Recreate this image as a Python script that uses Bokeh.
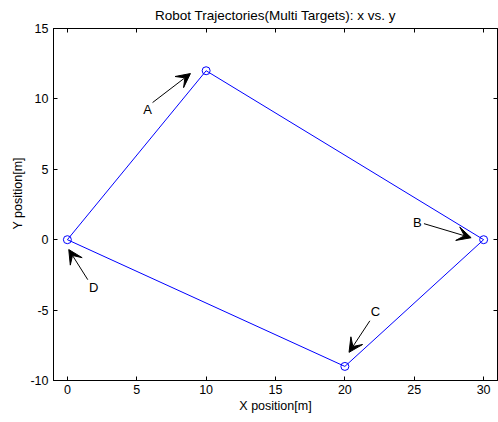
from bokeh.plotting import figure
from bokeh.models import Arrow, VeeHead, LinearAxis, Range1d, Label, Title
from bokeh.embed import file_html
from bokeh.resources import INLINE

# Trajectory waypoints (x, y in metres)
path_x = [0, 10, 30, 20, 0]
path_y = [0, 12, 0, -9, 0]

# Target markers
target_x = [0, 10, 30, 20]
target_y = [0, 12, 0, -9]

# Annotation labels and arrows
label_text = ["A", "B", "C", "D"]
label_x = [5.78, 25.23, 22.2, 1.9]
label_y = [9.24, 1.21, -5.12, -3.41]
arrow_x0 = [6.14, 25.7, 21.8, 1.47]
arrow_y0 = [9.74, 1.14, -5.76, -2.84]
arrow_x1 = [8.87, 29.1, 20.3, 0.1]
arrow_y1 = [11.8, 0.14, -8.0, -0.7]

x_ticks = [0, 5, 10, 15, 20, 25, 30]
y_ticks = [-10, -5, 0, 5, 10, 15]

FONT = "Liberation Sans"

p = figure(width=498, height=422, output_backend="svg", toolbar_location=None,
           x_range=Range1d(-1, 31), y_range=Range1d(-10, 15),
           min_border_left=53, min_border_right=1, min_border_top=28, min_border_bottom=42,
           title="Robot Trajectories(Multi Targets): x vs. y")
p.title.text_font = FONT
p.title.text_font_size = "13.5px"
p.title.text_font_style = "normal"
p.title.align = "center"
p.title.vertical_align = "top"
p.title.text_line_height = 1.0
p.title.text_color = "black"
p.title.standoff = 8
p.background_fill_color = "white"
p.border_fill_color = "white"
p.outline_line_color = "black"
p.outline_line_width = 1
p.xgrid.visible = False
p.ygrid.visible = False

for ax in (p.xaxis[0], p.yaxis[0]):
    ax.major_tick_in = 4
    ax.major_tick_out = 0
    ax.minor_tick_in = 0
    ax.minor_tick_out = 0
    ax.axis_line_color = "black"
    ax.major_tick_line_color = "black"
    ax.major_label_text_font = FONT
    ax.major_label_text_font_size = "12.5px"
    ax.major_label_text_color = "black"
    ax.axis_label_text_font = FONT
    ax.axis_label_text_font_size = "12.5px"
    ax.axis_label_text_font_style = "normal"
    ax.axis_label_text_color = "black"

p.xaxis.ticker = x_ticks
p.yaxis.ticker = y_ticks
p.xaxis.major_label_overrides = {t: str(t) for t in x_ticks}
p.yaxis.major_label_overrides = {t: str(t) for t in y_ticks}
p.xaxis.axis_label = "X position[m]"
p.xaxis.major_label_standoff = 4
p.yaxis.major_label_standoff = 5
p.xaxis.axis_label_standoff = 2

top = LinearAxis(ticker=x_ticks, major_label_overrides={t: "" for t in x_ticks},
                 major_tick_in=4, major_tick_out=0,
                 minor_tick_in=0, minor_tick_out=0, axis_line_color="black", major_label_standoff=0)
right = LinearAxis(ticker=y_ticks, major_label_overrides={t: "" for t in y_ticks},
                   major_tick_in=4, major_tick_out=0,
                   minor_tick_in=0, minor_tick_out=0, axis_line_color="black", major_label_standoff=0)
p.add_layout(top, "above")
p.add_layout(right, "right")

# Y axis title as a side title, positioned from the bottom of the frame
p.add_layout(Title(text="Y position[m]", align="left", offset=151, standoff=6,
                   text_font=FONT, text_font_size="12.5px", text_font_style="normal",
                   text_color="black"), "left")

p.line(path_x, path_y, line_color="#0000ff", line_width=1)
p.scatter(target_x, target_y, marker="circle", size=8, fill_color=None, line_color="#0000ff", line_width=1)

for i in range(len(label_text)):
    p.add_layout(Arrow(end=VeeHead(size=14, fill_color="black", line_color="black"),
                       x_start=arrow_x0[i], y_start=arrow_y0[i], x_end=arrow_x1[i], y_end=arrow_y1[i],
                       line_color="black", line_width=1))
    p.add_layout(Label(x=label_x[i], y=label_y[i], text=label_text[i], text_font=FONT,
                       text_font_size="13px", text_align="center", text_baseline="middle",
                       text_color="black"))

open("out.html", "w").write(file_html(p, INLINE))
